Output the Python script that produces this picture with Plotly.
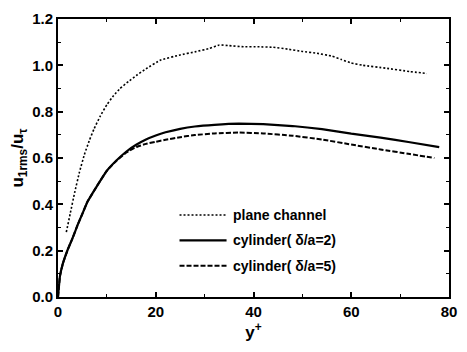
import plotly.graph_objects as go

# plane channel (dotted)
x_plane = [1.7, 2.5, 3.4, 4.4, 5.4, 6.4, 7.4, 8.7, 10, 11.4, 12.7, 14.4, 16, 18, 21, 25, 28, 31, 33, 35, 38, 41, 44, 47, 50, 53, 56, 58, 60, 62.4, 67, 72, 75.5]
y_plane = [0.28, 0.36, 0.45, 0.54, 0.615, 0.675, 0.727, 0.783, 0.83, 0.87, 0.90, 0.93, 0.956, 0.985, 1.023, 1.045, 1.058, 1.073, 1.088, 1.085, 1.08, 1.08, 1.078, 1.07, 1.06, 1.052, 1.04, 1.025, 1.01, 1.0, 0.988, 0.973, 0.965]

# cylinder delta/a = 2 (solid)
x_cyl2 = [0, 0.4, 1, 2, 3, 4, 5, 6, 8, 10, 12, 14, 16, 18, 20, 22, 25, 28, 32, 37, 42, 48, 54, 60, 66, 72, 78]
y_cyl2 = [0, 0.09, 0.145, 0.205, 0.255, 0.31, 0.36, 0.41, 0.48, 0.545, 0.59, 0.628, 0.657, 0.68, 0.697, 0.711, 0.726, 0.736, 0.743, 0.748, 0.746, 0.738, 0.725, 0.705, 0.688, 0.668, 0.647]

# cylinder delta/a = 5 (dashed)
x_cyl5 = [0, 0.4, 1, 2, 3, 4, 5, 6, 8, 10, 12, 14, 16, 18, 20, 22, 25, 28, 32, 37, 42, 48, 54, 60, 66, 72, 77]
y_cyl5 = [0, 0.09, 0.145, 0.205, 0.255, 0.31, 0.36, 0.41, 0.48, 0.545, 0.589, 0.624, 0.647, 0.661, 0.67, 0.679, 0.69, 0.699, 0.706, 0.71, 0.706, 0.696, 0.68, 0.658, 0.637, 0.617, 0.60]

labels = ["plane channel", "cylinder( δ/a=2)", "cylinder( δ/a=5)"]
dashes = ["2px,2px", "solid", "5px,2px"]
widths = [1.6, 2.2, 2.0]

x_ticks = [0, 20, 40, 60, 80]
y_ticks = [0.0, 0.2, 0.4, 0.6, 0.8, 1.0, 1.2]

FONT = "Liberation Sans"

fig = go.Figure()
for xs, ys, lab, d, w in zip([x_plane, x_cyl2, x_cyl5], [y_plane, y_cyl2, y_cyl5], labels, dashes, widths):
    fig.add_trace(go.Scatter(x=xs, y=ys, mode="lines", name=lab,
                             line=dict(color="black", dash=d, width=w, shape="spline", smoothing=0.3),
                             showlegend=False))

# manual legend
leg_y = [213, 239, 265]
plot_top, plot_bot = 12, 297
plot_l, plot_r = 58, 457
def px2paper_x(px):
    return (px - plot_l) / (plot_r - plot_l)
def px2paper_y(py):
    return (plot_bot - py) / (plot_bot - plot_top)
for lab, d, w, py in zip(labels, dashes, widths, leg_y):
    fig.add_shape(type="line", xref="paper", yref="paper",
                  x0=px2paper_x(182), x1=px2paper_x(230), y0=px2paper_y(py), y1=px2paper_y(py),
                  line=dict(color="black", dash=d, width=w))
    fig.add_annotation(xref="paper", yref="paper", x=px2paper_x(235), y=px2paper_y(py),
                       text=lab, showarrow=False, xanchor="left", yanchor="middle",
                       font=dict(family=FONT, size=14, color="black", weight="bold"))

axis_common = dict(showline=True, linecolor="black", linewidth=2, mirror="allticks",
                   ticks="inside", ticklen=5, tickwidth=1.5, tickcolor="black",
                   showgrid=False, zeroline=False,
                   tickfont=dict(family=FONT, size=15, color="black", weight="bold"))

fig.update_xaxes(range=[0, 80], tickvals=x_ticks, ticktext=[str(v) for v in x_ticks],
                 minor=dict(ticks="inside", ticklen=3, tickwidth=1, tickcolor="black", dtick=10, showgrid=False),
                 title=dict(text="y<sup>+</sup>", font=dict(family=FONT, size=17, color="black", weight="bold"), standoff=4),
                 **axis_common)
fig.update_yaxes(range=[0, 1.2], tickvals=y_ticks, ticktext=[f"{v:.1f}" for v in y_ticks],
                 minor=dict(ticks="inside", ticklen=3, tickwidth=1, tickcolor="black", dtick=0.1, showgrid=False),
                 title=dict(text="u<sub>1rms</sub>/u<sub>τ</sub>", font=dict(family=FONT, size=17, color="black", weight="bold"), standoff=4),
                 **axis_common)

fig.update_layout(width=467, height=352, margin=dict(l=58, r=10, t=12, b=55),
                  paper_bgcolor="white", plot_bgcolor="white", showlegend=False)

fig.write_html("out.html")
